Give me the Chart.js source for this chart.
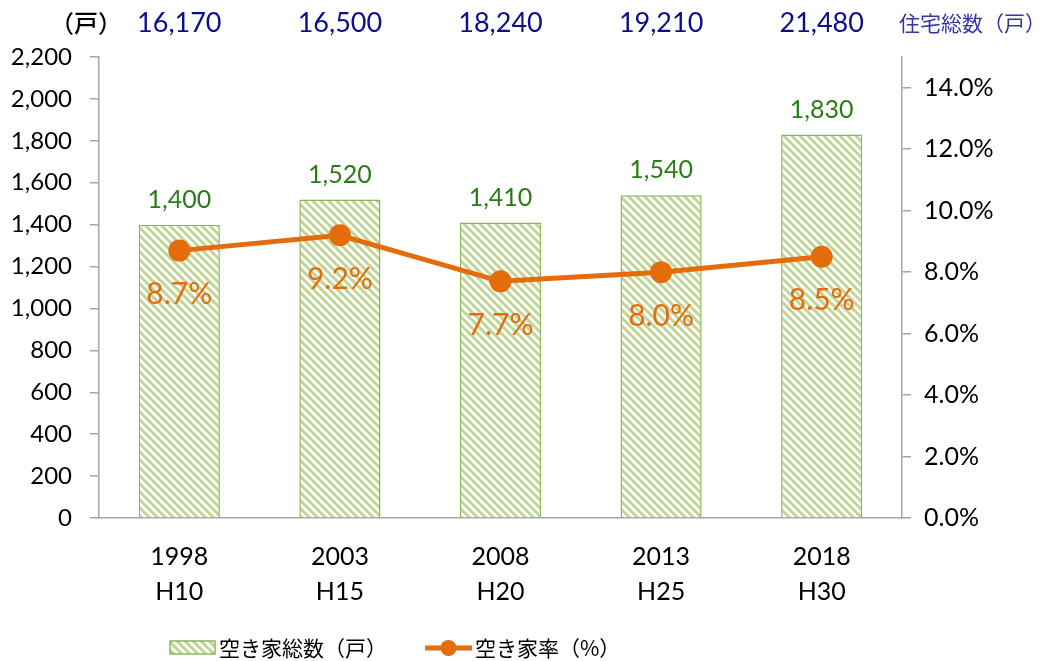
<!DOCTYPE html>
<html>
<head>
<meta charset="utf-8">
<script src="https://cdn.jsdelivr.net/npm/chart.js@4.4.0/dist/chart.umd.min.js"></script>
<style>
html,body{margin:0;padding:0;background:#fff;}
#wrap{width:1043px;height:661px;position:relative;}
</style>
</head>
<body>
<div id="wrap"><canvas id="mycanvas"></canvas></div>
<script>
// data
var years = ['1998', '2003', '2008', '2013', '2018'];
var eras = ['H10', 'H15', 'H20', 'H25', 'H30'];
var vacantHouses = [1400, 1520, 1410, 1540, 1830];   // 空き家総数（戸）
var vacancyRate = [8.7, 9.2, 7.7, 8.0, 8.5];          // 空き家率（%）
var totalHouses = [16170, 16500, 18240, 19210, 21480]; // 住宅総数（戸）

var NUM_FONT = 'Lato, "Noto Sans CJK JP", sans-serif';
var JP_FONT = '"Noto Sans CJK JP", "Noto Sans", sans-serif';
var ORANGE = '#E46C0A';
var AXIS_GREY = '#A6A6A6';

var canvas = document.getElementById('mycanvas');
var ctx0 = canvas.getContext('2d');

function makeStripes(){
  var c = document.createElement('canvas');
  c.width = 8; c.height = 8;
  var g = c.getContext('2d');
  g.fillStyle = '#fff';
  g.fillRect(0, 0, 8, 8);
  g.strokeStyle = '#BFD596';
  g.lineWidth = 3;
  g.beginPath();
  g.moveTo(-2, -2); g.lineTo(10, 10);
  g.moveTo(-2, 6); g.lineTo(2, 10);
  g.moveTo(6, -2); g.lineTo(10, 2);
  g.stroke();
  return ctx0.createPattern(c, 'repeat');
}
var stripes = makeStripes();

var labels = [];
for (var i in years) {
  labels.push([years[i], eras[i]]);
}

function fmt(v){ return v.toLocaleString('en-US'); }

var extraText = {
  id: 'extraText',
  afterDatasetsDraw: function(chart){
    var ctx = chart.ctx;
    var barMeta = chart.getDatasetMeta(0);
    var lineMeta = chart.getDatasetMeta(1);
    ctx.save();
    ctx.textAlign = 'center';
    ctx.textBaseline = 'middle';

    // bar values
    ctx.font = '25px ' + NUM_FONT;
    ctx.fillStyle = '#2B7B18';
    barMeta.data.forEach(function(bar, i){
      ctx.fillText(fmt(vacantHouses[i]), bar.x, bar.y - 25);
    });

    // rate values
    ctx.font = '30px ' + NUM_FONT;
    ctx.fillStyle = ORANGE;
    lineMeta.data.forEach(function(pt, i){
      ctx.fillText(vacancyRate[i].toFixed(1) + '%', pt.x, pt.y + 44);
    });

    // total houses row
    ctx.font = '27px ' + NUM_FONT;
    ctx.fillStyle = '#0E0E8C';
    totalHouses.forEach(function(v, i){
      ctx.fillText(fmt(v), chart.scales.x.getPixelForValue(i), 23);
    });

    ctx.textAlign = 'left';
    ctx.font = '500 24px ' + JP_FONT;
    ctx.fillStyle = '#000';
    ctx.fillText('（戸）', 50, 23);
    ctx.font = '21px ' + JP_FONT;
    ctx.fillStyle = '#3434A8';
    ctx.fillText('住宅総数（戸）', 899, 23);

    // legend
    ctx.fillStyle = stripes;
    ctx.fillRect(170, 641, 45, 13);
    ctx.strokeStyle = '#8EB45A';
    ctx.lineWidth = 1.5;
    ctx.strokeRect(170, 641, 45, 13);
    ctx.fillStyle = '#000';
    ctx.font = '21px ' + JP_FONT;
    ctx.fillText('空き家総数（戸）', 219, 648);

    ctx.strokeStyle = ORANGE;
    ctx.lineWidth = 5;
    ctx.beginPath();
    ctx.moveTo(425, 648); ctx.lineTo(472, 648);
    ctx.stroke();
    ctx.fillStyle = ORANGE;
    ctx.beginPath();
    ctx.arc(448.5, 648, 8, 0, Math.PI * 2);
    ctx.fill();
    ctx.fillStyle = '#000';
    ctx.fillText('空き家率（%）', 475, 648);
    ctx.restore();
  }
};

var chartdata = {
  labels: labels,
  datasets: [
    {
      type: 'bar',
      label: '空き家総数（戸）',
      data: vacantHouses,
      yAxisID: 'y',
      backgroundColor: stripes,
      borderColor: '#8EB45A',
      borderWidth: 1.5,
      categoryPercentage: 0.505,
      barPercentage: 1,
      order: 2
    },
    {
      type: 'line',
      label: '空き家率（%）',
      data: vacancyRate,
      yAxisID: 'y1',
      borderColor: ORANGE,
      backgroundColor: ORANGE,
      borderWidth: 5,
      pointRadius: 11,
      pointBorderWidth: 0,
      pointBackgroundColor: ORANGE,
      fill: false,
      tension: 0,
      order: 1
    }
  ]
};

var graph = new Chart(canvas, {
  data: chartdata,
  plugins: [extraText],
  options: {
    responsive: true,
    maintainAspectRatio: false,
    animation: false,
    layout: { padding: { top: 57, left: 0, right: 0, bottom: 0 } },
    plugins: {
      legend: { display: false },
      tooltip: { enabled: false }
    },
    scales: {
      x: {
        grid: { display: false },
        border: { display: true, color: AXIS_GREY, width: 1.5 },
        ticks: {
          color: '#000',
          padding: 13,
          maxRotation: 0,
          font: { size: 25, family: NUM_FONT, lineHeight: 1.4 }
        },
        afterFit: function(s){ s.height = 143; }
      },
      y: {
        position: 'left',
        min: 0,
        max: 2200,
        grid: { drawOnChartArea: false, tickLength: 9, color: AXIS_GREY, lineWidth: 1.5 },
        border: { color: AXIS_GREY, width: 1.5 },
        ticks: {
          stepSize: 200,
          padding: 18,
          color: '#000',
          font: { size: 24, family: NUM_FONT },
          callback: function(v){ return fmt(v); }
        },
        afterFit: function(s){ s.width = 99; }
      },
      y1: {
        position: 'right',
        min: 0,
        max: 15,
        grid: { drawOnChartArea: false, tickLength: 9, color: AXIS_GREY, lineWidth: 1.5 },
        border: { color: AXIS_GREY, width: 1.5 },
        ticks: {
          stepSize: 2,
          padding: 13,
          color: '#000',
          font: { size: 25, family: NUM_FONT },
          callback: function(v){ return v.toFixed(1) + '%'; }
        },
        afterBuildTicks: function(s){
          s.ticks = s.ticks.filter(function(t){ return t.value % 2 === 0; });
        },
        afterFit: function(s){ s.width = 141; }
      }
    }
  }
});
</script>
</body>
</html>
